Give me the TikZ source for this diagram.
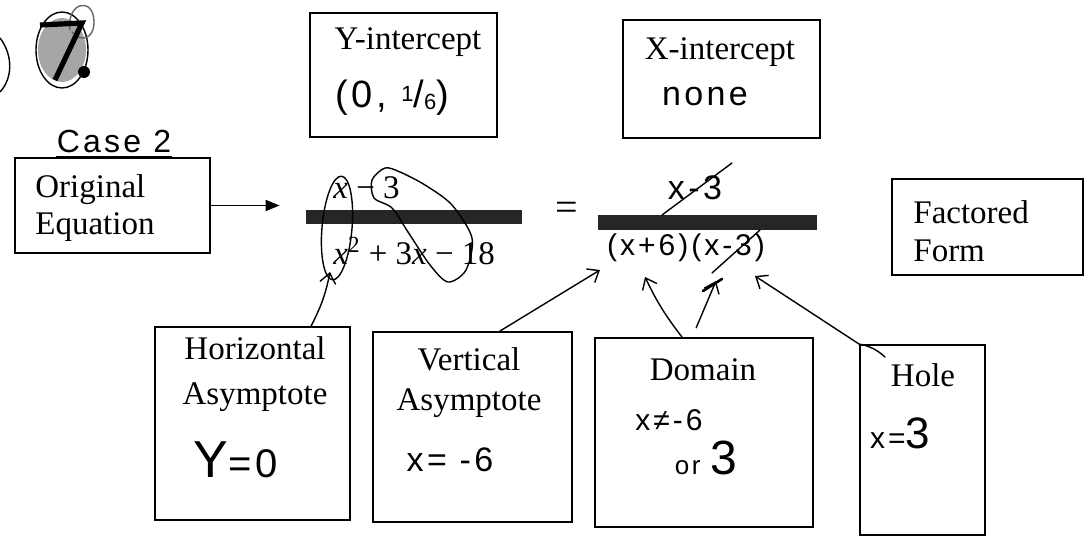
\documentclass[tikz,border=0pt]{standalone}
\usepackage{fontspec}
\setmainfont{Liberation Serif}
\newfontfamily\hand[LetterSpace=10]{Liberation Sans}
\usetikzlibrary{positioning, arrows.meta}

\tikzset{
  box/.style     ={draw=black, line width=1pt, inner sep=0pt},
  lbl/.style     ={font=\fontsize{16.5}{19}\selectfont, align=center,
                   inner sep=0pt},
  ink/.style     ={font=\hand\fontsize{17}{20}\selectfont, inner sep=0pt},
  pen/.style     ={draw=black, line width=0.7pt, line cap=round,
                   line join=round},
  penarrow/.style={pen, -{Straight Barb[length=5pt, width=8pt]}},
  fracbar/.style ={fill=black!85, inner sep=0pt},
  feed/.style    ={-{Triangle[length=7pt, width=5.5pt]}, line width=0.8pt},
}

\begin{document}
\begin{tikzpicture}[x=0.5pt, y=-0.5pt]
\fill[white] (0,0) rectangle (1087,540);
\useasboundingbox (0,0) rectangle (1087,540);

% --- problem number, scribbled out ---
\draw[pen] (0,38) .. controls (13,55) and (13,78) .. (0,92);
\fill[black!35] (62,50) ellipse [x radius=12pt, y radius=16pt];
\draw[pen] (62,50) ellipse [x radius=13pt, y radius=19pt];
\draw[pen, black!60] (70,30) .. controls (66,2) and (94,-4) .. (94,22)
  .. controls (94,40) and (80,42) .. (72,32);
\draw[line width=2.6pt] (40,25) -- (82,23) -- (55,80);
\fill (84,72) circle (3pt);

% --- case heading ---
\node[ink, font=\hand\fontsize{16}{18}\selectfont] (case) at (114,141) {Case 2};
\draw[pen] ([yshift=-2pt]case.south west) -- ([yshift=-2pt]case.south east);

% --- boxes ---
\node[box, minimum width=97.5pt, minimum height=47.5pt] (orig) at (112.5,205.5) {};
\node[box, minimum width=93.5pt, minimum height=62pt]   (yint) at (403.5,75) {};
\node[box, minimum width=98.5pt, minimum height=59pt]   (xint) at (721.5,79) {};
\node[box, minimum width=95.5pt, minimum height=48pt]   (fact) at (987.5,227) {};
\node[box, minimum width=97.5pt, minimum height=96.5pt] (ha)   at (252.5,423.5) {};
\node[box, minimum width=99.5pt, minimum height=95pt]   (va)   at (472.5,427) {};
\node[box, minimum width=109pt,  minimum height=94.5pt] (dom)  at (704,432.5) {};
\node[box, minimum width=62.5pt, minimum height=95pt]   (hole) at (922.5,440) {};

% --- printed labels ---
\node[lbl, align=left, anchor=west] (origT) at (35,208.5) {Original\\[-0.5pt]Equation};
\node[lbl] (yintT) at (408,42) {Y-intercept};
\node[lbl] (xintT) at (720,52) {X-intercept};
\node[lbl, align=left, anchor=west] (factT) at (913,231) {Factored\\Form};
\node[lbl] (haT)   at (255,374.5) {Horizontal\\[3.5pt]Asymptote};
\node[lbl] (vaT)   at (469,383) {Vertical\\[1pt]Asymptote};
\node[lbl] (domT)  at (703,370) {Domain};
\node[lbl] (holeT) at (923,375) {Hole};

% --- handwritten answers ---
\node[ink, font=\hand\fontsize{19}{20}\selectfont] (yintA) at (392,98)
  {(0, \raisebox{3pt}{\fontsize{11}{11}\selectfont 1}/\raisebox{-1pt}{\fontsize{11}{11}\selectfont 6})};
\node[ink] (xintA) at (705,97) {none};
\node[ink] (haA) at (236,460)
  {{\fontsize{26}{26}\selectfont Y}{\fontsize{20}{20}\selectfont =0}};
\node[ink] (vaA) at (450,460) {x= -6};
\node[ink, font=\hand\fontsize{15}{16}\selectfont] (domA) at (669,420) {x≠-6};
\node[ink] (domB) at (706,458)
  {{\fontsize{13}{13}\selectfont or }{\fontsize{24}{24}\selectfont 3}};
\node[ink] (holeA) at (900,433)
  {{\fontsize{15}{15}\selectfont x=}{\fontsize{22}{22}\selectfont 3}};

% --- original equation ---
\node[fracbar, minimum width=108pt, minimum height=7pt] (barL) at (414,217) {};
\node[lbl, anchor=west] (numL) at (333,188) {\textit{x} − 3};
\node[lbl, anchor=west] (denL) at (333,251) {\textit{x}\textsuperscript{2} + 3\textit{x} − 18};
\node[lbl, font=\fontsize{20}{20}\selectfont] (eq) at (567,211) {=};

% --- factored form, written in ---
\node[fracbar, minimum width=109.5pt, minimum height=7.5pt] (barR) at (707.5,222.5) {};
\node[ink] (numR) at (695,188) {x-3};
\node[ink, font=\hand\fontsize{15}{16}\selectfont] (denR) at (686,248) {(x+6)(x-3)};

% --- marks on the equations ---
\draw[pen] (337,228) ellipse [x radius=7.5pt, y radius=26pt, rotate=-5];
\draw[pen] plot[smooth cycle] coordinates {(372,180) (385,168) (400,172)
  (425,185) (452,205) (472,238) (466,270) (448,282) (430,265) (408,232)
  (392,208) (374,198)};
\draw[pen] (662,215) -- (732,163);
\draw[pen] (760,230) -- (712,273);

% --- connectors ---
\coordinate (haTip)   at (330,272);
\coordinate (vaTip)   at (600,270);
\coordinate (domTip1) at (645,277);
\coordinate (domTip2) at (716,281);
\coordinate (holeTip) at (755,276);
\coordinate (holeHook) at (885,357);

\draw[feed, shorten >=13pt] (orig.east) -- (orig.east -| barL.west);
\draw[penarrow] (ha.59) to[bend right=8] (haTip);
\draw[penarrow] (va.74) -- (vaTip);
\draw[penarrow] (dom.103) to[bend left=6] (domTip1);
\draw[penarrow, shorten <=5pt] (dom.97) -- (domTip2);
\draw[pen, line width=1.3pt] (703,291) -- (722,279);
\draw[penarrow] (holeHook) to[bend right=15] (hole.north west) -- (holeTip);

\end{tikzpicture}
\end{document}
